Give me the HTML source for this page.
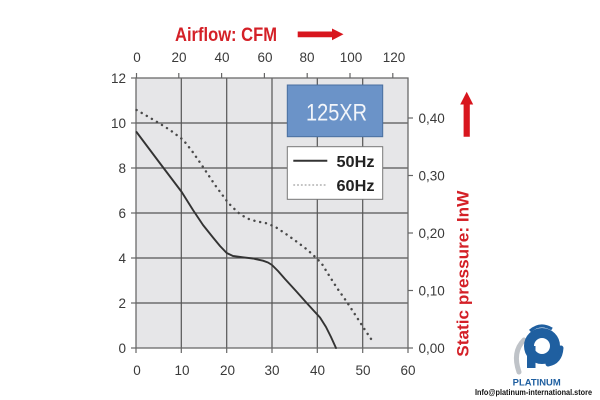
<!DOCTYPE html>
<html><head><meta charset="utf-8"><style>
html,body{margin:0;padding:0;background:#fff;}
svg{display:block;}
text{font-family:"Liberation Sans",Arial,sans-serif;}
</style></head><body>
<svg width="600" height="400" viewBox="0 0 600 400" xmlns="http://www.w3.org/2000/svg">
<rect x="0" y="0" width="600" height="400" fill="#fff"/>
<!-- plot area -->
<rect x="136" y="78" width="272" height="270" fill="#e6e6e8"/>
<g stroke="#555" stroke-width="1.2">
  <line x1="181.3" y1="78" x2="181.3" y2="348"/>
  <line x1="226.7" y1="78" x2="226.7" y2="348"/>
  <line x1="272" y1="78" x2="272" y2="348"/>
  <line x1="317.3" y1="78" x2="317.3" y2="348"/>
  <line x1="362.7" y1="78" x2="362.7" y2="348"/>
  <line x1="136" y1="303" x2="408" y2="303"/>
  <line x1="136" y1="258" x2="408" y2="258"/>
  <line x1="136" y1="213" x2="408" y2="213"/>
  <line x1="136" y1="168" x2="408" y2="168"/>
  <line x1="136" y1="123" x2="408" y2="123"/>
</g>
<rect x="136" y="78" width="272" height="270" fill="none" stroke="#6a6a6a" stroke-width="1.3"/>
<!-- ticks -->
<g stroke="#666" stroke-width="1.2">
  <line x1="131" y1="348" x2="136" y2="348"/><line x1="131" y1="303" x2="136" y2="303"/>
  <line x1="131" y1="258" x2="136" y2="258"/><line x1="131" y1="213" x2="136" y2="213"/>
  <line x1="131" y1="168" x2="136" y2="168"/><line x1="131" y1="123" x2="136" y2="123"/>
  <line x1="131" y1="78" x2="136" y2="78"/>
  <line x1="136" y1="348" x2="136" y2="353"/><line x1="181.3" y1="348" x2="181.3" y2="353"/>
  <line x1="226.7" y1="348" x2="226.7" y2="353"/><line x1="272" y1="348" x2="272" y2="353"/>
  <line x1="317.3" y1="348" x2="317.3" y2="353"/><line x1="362.7" y1="348" x2="362.7" y2="353"/>
  <line x1="408" y1="348" x2="408" y2="353"/>
  <line x1="136.5" y1="73" x2="136.5" y2="78"/><line x1="178.8" y1="73" x2="178.8" y2="78"/>
  <line x1="221.6" y1="73" x2="221.6" y2="78"/><line x1="264.4" y1="73" x2="264.4" y2="78"/>
  <line x1="307.2" y1="73" x2="307.2" y2="78"/><line x1="350" y1="73" x2="350" y2="78"/>
  <line x1="392.8" y1="73" x2="392.8" y2="78"/>
  <line x1="408" y1="348" x2="413" y2="348"/><line x1="408" y1="290.5" x2="413" y2="290.5"/>
  <line x1="408" y1="233" x2="413" y2="233"/><line x1="408" y1="175.5" x2="413" y2="175.5"/>
  <line x1="408" y1="118" x2="413" y2="118"/>
</g>
<!-- tick labels -->
<g font-size="13.5" fill="#3a3a3a">
  <g text-anchor="end">
    <text x="126" y="353">0</text><text x="126" y="308">2</text><text x="126" y="263">4</text>
    <text x="126" y="218">6</text><text x="126" y="173">8</text><text x="126" y="128">10</text>
    <text x="126" y="83">12</text>
  </g>
  <g text-anchor="middle">
    <text x="137" y="375">0</text><text x="182" y="375">10</text><text x="227.5" y="375">20</text>
    <text x="272" y="375">30</text><text x="317.5" y="375">40</text><text x="363" y="375">50</text>
    <text x="408" y="375">60</text>
    <text x="137" y="62">0</text><text x="179" y="62">20</text><text x="222" y="62">40</text>
    <text x="265" y="62">60</text><text x="307" y="62">80</text><text x="351" y="62">100</text>
    <text x="394" y="62">120</text>
  </g>
  <g text-anchor="start">
    <text x="418.5" y="353">0,00</text><text x="418.5" y="295.5">0,10</text>
    <text x="418.5" y="238">0,20</text><text x="418.5" y="180.5">0,30</text>
    <text x="418.5" y="123">0,40</text>
  </g>
</g>
<!-- curves -->
<polyline fill="none" stroke="#333" stroke-width="1.9" stroke-linejoin="round" stroke-linecap="round"
 points="136.5,132 159,162 181.7,192 193,210 203,225 213,237.5 220,246 226.7,253 233,256 243,257.3 253,258.5 263,260.7 268,262.5 272,265 278,271 285,279 296,291 306.7,303 314,311 320,317.5 326,327 331,337 336,348"/>
<polyline fill="none" stroke="#4a4a4a" stroke-width="2.4" stroke-dasharray="0.1 5.8" stroke-linecap="round" stroke-linejoin="round"
 points="136.5,110 147,116 158.3,122.7 170,130 183.3,140 192,151 201.7,165 215,185 228.3,203 238,212.5 246.7,218.3 256,221.2 266.7,223.3 275,226.7 286,234 296.7,241.7 307,249.5 316.7,258.3 322,264 326.7,271.7 337,288 346.7,301.7 356,316 365,330 374,343.3"/>
<!-- title box -->
<rect x="287.3" y="85" width="95.4" height="51.7" fill="#6b93c8" stroke="#4a6f9f" stroke-width="1"/>
<text x="336.5" y="120.5" font-size="24" fill="#f2f5fa" text-anchor="middle" textLength="61" lengthAdjust="spacingAndGlyphs">125XR</text>
<!-- legend -->
<rect x="287.3" y="146.7" width="95.4" height="52.6" fill="#fff" stroke="#777" stroke-width="1"/>
<line x1="293.3" y1="160.7" x2="327.3" y2="160.7" stroke="#333" stroke-width="2"/>
<line x1="293.3" y1="185" x2="327.3" y2="185" stroke="#888" stroke-width="1" stroke-dasharray="1.8 2"/>
<text x="336.5" y="167" font-size="16" font-weight="bold" fill="#222" textLength="38" lengthAdjust="spacingAndGlyphs">50Hz</text>
<text x="336.5" y="191" font-size="16" font-weight="bold" fill="#222" textLength="38" lengthAdjust="spacingAndGlyphs">60Hz</text>
<!-- top title -->
<text x="175" y="41" font-size="19" font-weight="bold" fill="#d42027" textLength="102" lengthAdjust="spacingAndGlyphs">Airflow: CFM</text>
<polygon points="297.7,31.5 332,31.5 332,28.5 343.5,34.3 332,40.3 332,37.2 297.7,37.2" fill="#d8161e"/>
<!-- right title -->
<text transform="translate(468.5,356.7) rotate(-90)" font-size="17" font-weight="bold" fill="#d42027" textLength="166" lengthAdjust="spacingAndGlyphs">Static pressure: InW</text>
<polygon points="466.7,91.7 473.2,104.5 469.8,104.5 469.8,136.7 463.6,136.7 463.6,104.5 460.2,104.5" fill="#d8161e"/>
<!-- logo -->
<g>
  <path d="M524,340 Q512,352 519,372" fill="none" stroke="#bfc3c8" stroke-width="5" stroke-linecap="round"/>
  <path d="M548,364 Q560,362 561,348" fill="none" stroke="#1f5fa0" stroke-width="5" stroke-linecap="round"/>
  <circle cx="542" cy="346" r="13" fill="none" stroke="#1f5fa0" stroke-width="10"/>
  <rect x="527" y="346" width="8.5" height="22" fill="#1f5fa0"/>
  <path d="M530,331 Q540,322 552,329" fill="none" stroke="#1f5fa0" stroke-width="3"/>
</g>
<text x="512.7" y="385.5" font-size="9" font-weight="bold" fill="#1f5fa0" textLength="48" lengthAdjust="spacingAndGlyphs">PLATINUM</text>
<text x="475" y="395" font-size="8.5" font-weight="bold" fill="#111" textLength="117" lengthAdjust="spacingAndGlyphs">Info@platinum-international.store</text>
</svg>
</body></html>
